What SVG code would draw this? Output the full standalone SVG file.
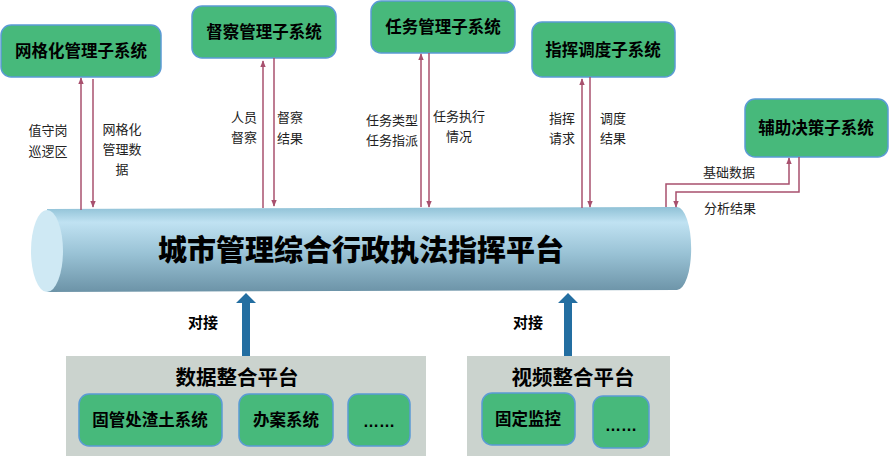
<svg xmlns="http://www.w3.org/2000/svg" width="889" height="456" viewBox="0 0 889 456">
<defs>
<style>
.node{fill:#47b97b;stroke:#5b9bd5;stroke-width:1.5}
.nt{font-family:"Noto Sans CJK SC","Noto Sans",sans-serif;font-weight:bold;font-size:16.5px;fill:#000;text-anchor:middle}
.dots{font-family:"Liberation Sans",sans-serif;font-weight:bold;font-size:16px;fill:#000;text-anchor:middle}
.lb{font-family:"Noto Sans CJK SC","Noto Sans",sans-serif;font-size:13px;fill:#222;text-anchor:middle}
.ln{fill:none;stroke:#a8506e;stroke-width:1.5}
.panel{fill:#cbd3ce}
.pt{font-family:"Noto Sans CJK SC","Noto Sans",sans-serif;font-weight:bold;font-size:20.5px;fill:#000;text-anchor:middle}
.dj{font-family:"Noto Sans CJK SC","Noto Sans",sans-serif;font-weight:bold;font-size:15px;fill:#000;text-anchor:middle}
.blue{fill:#236ea1}
</style>
<marker id="ah" viewBox="0 0 10 10" refX="9" refY="5" markerWidth="7" markerHeight="7" orient="auto-start-reverse" markerUnits="userSpaceOnUse">
<path d="M0,1 L10,5 L0,9 z" fill="#a8506e"/>
</marker>
<linearGradient id="cyl" x1="0" y1="0" x2="0" y2="1">
<stop offset="0" stop-color="#8fc1d6"/>
<stop offset="0.18" stop-color="#c0e2f2"/>
<stop offset="0.55" stop-color="#99c2d5"/>
<stop offset="1" stop-color="#6c93a7"/>
</linearGradient>
</defs>

<g id="platform">
<path d="M47,209 L677,207 A14,41 0 0 1 677,290 L47,292 Z" fill="url(#cyl)"/>
<ellipse cx="47" cy="251" rx="16" ry="41" fill="#cfe9f4"/>
<text x="361" y="261" font-family="'Noto Sans CJK SC','Noto Sans',sans-serif" font-weight="900" font-size="29" text-anchor="middle" fill="#000">城市管理综合行政执法指挥平台</text>
</g>

<g id="n-grid"><rect class="node" x="1" y="25" width="160" height="52" rx="10"/><text class="nt" x="81" y="57">网格化管理子系统</text></g>
<g id="n-inspect"><rect class="node" x="192" y="6" width="144" height="52" rx="10"/><text class="nt" x="264" y="38">督察管理子系统</text></g>
<g id="n-task"><rect class="node" x="371" y="1" width="144" height="52" rx="10"/><text class="nt" x="443" y="33">任务管理子系统</text></g>
<g id="n-command"><rect class="node" x="532" y="22" width="143" height="55" rx="10"/><text class="nt" x="603" y="56">指挥调度子系统</text></g>
<g id="n-aux"><rect class="node" x="745" y="99" width="143" height="58" rx="10"/><text class="nt" x="816" y="134">辅助决策子系统</text></g>

<g id="connectors">
<line class="ln" x1="81" y1="210" x2="81" y2="78" marker-end="url(#ah)"/>
<line class="ln" x1="93" y1="79" x2="93" y2="207" marker-end="url(#ah)"/>
<line class="ln" x1="263" y1="208" x2="263" y2="61" marker-end="url(#ah)"/>
<line class="ln" x1="274" y1="58" x2="274" y2="206" marker-end="url(#ah)"/>
<line class="ln" x1="421" y1="207" x2="421" y2="54" marker-end="url(#ah)"/>
<line class="ln" x1="429" y1="53" x2="429" y2="207" marker-end="url(#ah)"/>
<line class="ln" x1="582" y1="208" x2="582" y2="79" marker-end="url(#ah)"/>
<line class="ln" x1="590" y1="77" x2="590" y2="207" marker-end="url(#ah)"/>
<polyline class="ln" points="666,207 666,184 789,184 789,158" marker-end="url(#ah)"/>
<polyline class="ln" points="799,157 799,192 676,192 676,207" marker-end="url(#ah)"/>
<path class="blue" d="M242,356 L242,303 L236,303 L246,293 L256,303 L250,303 L250,356 Z"/>
<path class="blue" d="M564,356 L564,303 L558,303 L568,293 L578,303 L572,303 L572,356 Z"/>
</g>

<g id="labels">
<text class="lb" x="48" y="135">值守岗</text><text class="lb" x="48" y="156">巡逻区</text>
<text class="lb" x="122" y="134">网格化</text><text class="lb" x="122" y="154">管理数</text><text class="lb" x="122" y="174">据</text>
<text class="lb" x="244" y="122">人员</text><text class="lb" x="244" y="142">督察</text>
<text class="lb" x="290" y="122">督察</text><text class="lb" x="290" y="143">结果</text>
<text class="lb" x="392" y="125">任务类型</text><text class="lb" x="392" y="145">任务指派</text>
<text class="lb" x="459" y="121">任务执行</text><text class="lb" x="459" y="141">情况</text>
<text class="lb" x="562" y="123">指挥</text><text class="lb" x="562" y="143">请求</text>
<text class="lb" x="613" y="123">调度</text><text class="lb" x="613" y="143">结果</text>
<text class="lb" x="729" y="177">基础数据</text>
<text class="lb" x="730" y="213">分析结果</text>
<text class="dj" x="203" y="328">对接</text>
<text class="dj" x="528" y="328">对接</text>
</g>

<g id="data-platform">
<rect class="panel" x="66" y="356" width="360" height="100"/>
<text class="pt" x="237" y="385">数据整合平台</text>
<g id="n-muck"><rect class="node" x="79" y="394" width="143" height="52" rx="10"/><text class="nt" x="150" y="426">固管处渣土系统</text></g>
<g id="n-case"><rect class="node" x="239" y="394" width="94" height="52" rx="10"/><text class="nt" x="286" y="426">办案系统</text></g>
<g id="n-more1"><rect class="node" x="348" y="394" width="62" height="52" rx="10"/><text class="dots" x="379" y="427">……</text></g>
</g>

<g id="video-platform">
<rect class="panel" x="467" y="356" width="203" height="100"/>
<text class="pt" x="573" y="385">视频整合平台</text>
<g id="n-cam"><rect class="node" x="482" y="393" width="93" height="52" rx="10"/><text class="nt" x="528" y="425">固定监控</text></g>
<g id="n-more2"><rect class="node" x="593" y="396" width="56" height="52" rx="10"/><text class="dots" x="621" y="431">……</text></g>
</g>
</svg>
